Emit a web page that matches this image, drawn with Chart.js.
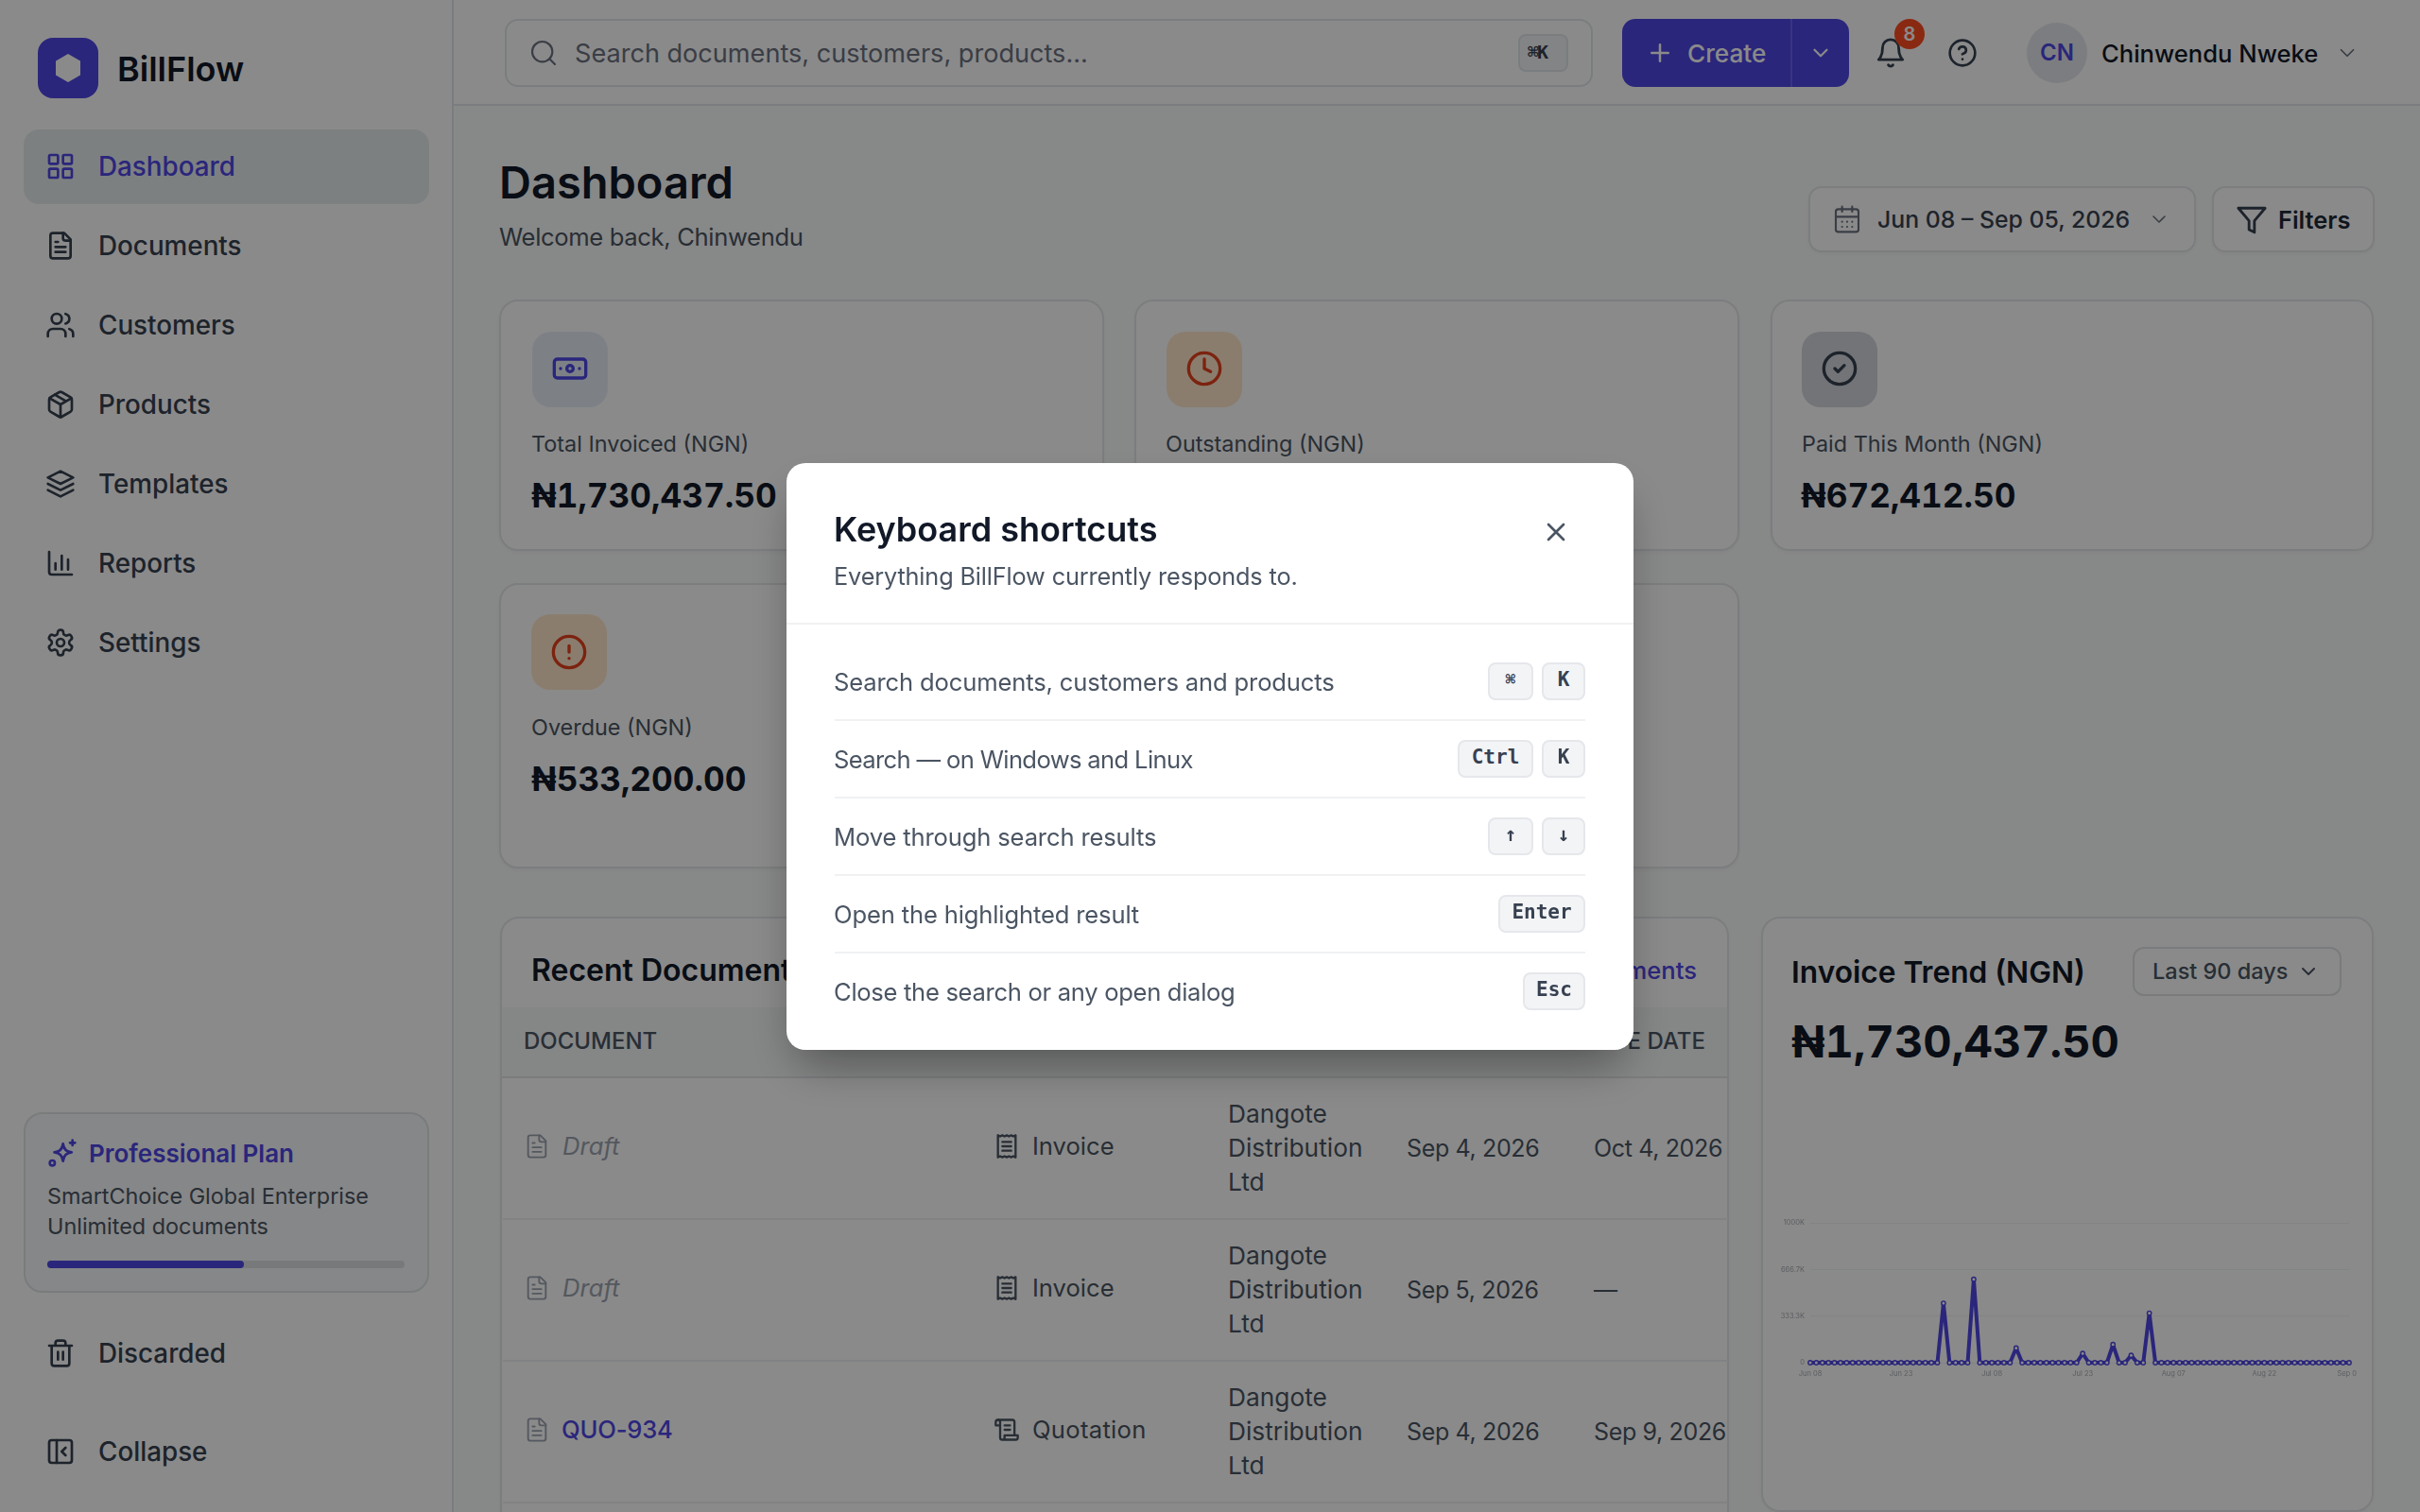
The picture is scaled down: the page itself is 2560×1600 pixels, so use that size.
<!DOCTYPE html>
<html><head><meta charset="utf-8"><title>BillFlow Dashboard</title>
<script src="https://cdn.jsdelivr.net/npm/chart.js@4"></script>
<style>
*{box-sizing:border-box}
html,body{margin:0;padding:0;width:2560px;height:1600px;overflow:hidden;background:#fafcfb;font-family:Inter,"Noto Sans",sans-serif;color:#111827}
.t{position:absolute;white-space:nowrap;transform:translateY(-50%);line-height:1.2}
.i{position:absolute;transform:translate(-50%,-50%);fill:none;stroke:currentColor;stroke-width:2;stroke-linecap:round;stroke-linejoin:round}
.b{position:absolute}
.card{position:absolute;background:#fff;border:2px solid #e4e8ea;border-radius:20px;box-shadow:0 2px 4px rgba(0,0,0,.04)}
.nav{font-size:27.8px;font-weight:500;color:#374151;left:104px;margin-top:1px}
.ni{color:#374151;left:64px;width:32px;height:32px}
.lab{font-size:23.4px;color:#4b5563;margin-top:1px}
.val{font-size:35.2px;font-weight:700;color:#111827;font-variant-numeric:tabular-nums;margin-top:1px}
.box{position:absolute;width:80px;height:80px;border-radius:20px}
.cell{font-size:25.6px;color:#4b5563}
.date{font-size:25px;color:#4b5563;letter-spacing:-.35px}
.cust{font-size:26.3px;color:#4b5563}
.rowline{position:absolute;left:532px;width:1296px;height:2px;background:#eef0f2}
.kbd{position:absolute;height:40px;background:#f3f4f6;border:2px solid #e5e7eb;border-radius:8px;font:700 21px/32px "DejaVu Sans Mono","Liberation Mono",monospace;color:#374151;text-align:center}
.mrow{font-size:25.6px;color:#4b5563;left:882px;letter-spacing:-.15px}
.mline{position:absolute;left:883px;width:794px;height:2px;background:#f0f1f3}
#overlay{position:absolute;left:0;top:0;width:2560px;height:1600px;background:rgba(0,0,0,.46)}
#modal{position:absolute;left:832px;top:490px;width:896px;height:621px;background:#fff;border-radius:20px;box-shadow:0 25px 50px -12px rgba(0,0,0,.4)}
#chartBox{position:absolute;left:1881px;top:1284px;width:612px;height:178px}
</style></head><body>
<svg width="0" height="0" style="position:absolute"><defs>
<symbol id="grid" viewBox="0 0 24 24"><rect x="3" y="3" width="7" height="7" rx="1"/><rect x="14" y="3" width="7" height="7" rx="1"/><rect x="14" y="14" width="7" height="7" rx="1"/><rect x="3" y="14" width="7" height="7" rx="1"/></symbol>
<symbol id="file" viewBox="0 0 24 24"><path d="M15 2H6a2 2 0 0 0-2 2v16a2 2 0 0 0 2 2h12a2 2 0 0 0 2-2V7z"/><path d="M14 2v4a2 2 0 0 0 2 2h4M16 13H8M16 17H8M10 9H8"/></symbol>
<symbol id="users" viewBox="0 0 24 24"><path d="M16 21v-2a4 4 0 0 0-4-4H6a4 4 0 0 0-4 4v2"/><circle cx="9" cy="7" r="4"/><path d="M22 21v-2a4 4 0 0 0-3-3.87M16 3.13a4 4 0 0 1 0 7.75"/></symbol>
<symbol id="pkg" viewBox="0 0 24 24"><path d="M11 21.73a2 2 0 0 0 2 0l7-4A2 2 0 0 0 21 16V8a2 2 0 0 0-1-1.73l-7-4a2 2 0 0 0-2 0l-7 4A2 2 0 0 0 3 8v8a2 2 0 0 0 1 1.73z"/><path d="M12 22V12M3.3 7l8.7 5 8.7-5M7.5 4.27l9 5.15"/></symbol>
<symbol id="layers" viewBox="0 0 24 24"><path d="M12 2 2 7l10 5 10-5-10-5z"/><path d="M2 17l10 5 10-5M2 12l10 5 10-5"/></symbol>
<symbol id="bars" viewBox="0 0 24 24"><path d="M3 3v16a2 2 0 0 0 2 2h16M8 17v-5M13 17V6M18 17v-8"/></symbol>
<symbol id="gear" viewBox="0 0 24 24"><path d="M12.22 2h-.44a2 2 0 0 0-2 2v.18a2 2 0 0 1-1 1.73l-.43.25a2 2 0 0 1-2 0l-.15-.08a2 2 0 0 0-2.73.73l-.22.38a2 2 0 0 0 .73 2.73l.15.1a2 2 0 0 1 1 1.72v.51a2 2 0 0 1-1 1.74l-.15.09a2 2 0 0 0-.73 2.73l.22.38a2 2 0 0 0 2.73.73l.15-.08a2 2 0 0 1 2 0l.43.25a2 2 0 0 1 1 1.73V20a2 2 0 0 0 2 2h.44a2 2 0 0 0 2-2v-.18a2 2 0 0 1 1-1.73l.43-.25a2 2 0 0 1 2 0l.15.08a2 2 0 0 0 2.73-.73l.22-.39a2 2 0 0 0-.73-2.73l-.15-.08a2 2 0 0 1-1-1.74v-.5a2 2 0 0 1 1-1.74l.15-.09a2 2 0 0 0 .73-2.73l-.22-.38a2 2 0 0 0-2.73-.73l-.15.08a2 2 0 0 1-2 0l-.43-.25a2 2 0 0 1-1-1.73V4a2 2 0 0 0-2-2z"/><circle cx="12" cy="12" r="3"/></symbol>
<symbol id="spark" viewBox="0 0 24 24"><path d="M10 4.5c.4 3.6 2.9 6.1 6.5 6.5-3.6.4-6.1 2.900-6.500 6.500C9.600 13.900 7.100 11.400 3.500 11c3.600-.4 6.100-2.900 6.500-6.500z" transform="translate(2 0) scale(1.05)"/><path d="M20 2v4M18 4h4"/><circle cx="4" cy="20" r="2"/></symbol>
<symbol id="trash" viewBox="0 0 24 24"><path d="M3 6h18M19 6v14a2 2 0 0 1-2 2H7a2 2 0 0 1-2-2V6M8 6V4a2 2 0 0 1 2-2h4a2 2 0 0 1 2 2v2M10 11v6M14 11v6"/></symbol>
<symbol id="panel" viewBox="0 0 24 24"><rect x="3" y="3" width="18" height="18" rx="2"/><path d="M9 3v18M16 15l-3-3 3-3"/></symbol>
<symbol id="search" viewBox="0 0 24 24"><circle cx="11" cy="11" r="8"/><path d="m21 21-4.300-4.300"/></symbol>
<symbol id="plus" viewBox="0 0 24 24"><path d="M5 12h14M12 5v14"/></symbol>
<symbol id="chev" viewBox="0 0 24 24"><path d="m6 9 6 6 6-6"/></symbol>
<symbol id="bell" viewBox="0 0 24 24"><path d="M6 8a6 6 0 0 1 12 0c0 7 3 9 3 9H3s3-2 3-9"/><path d="M10.300 21a1.940 1.940 0 0 0 3.400 0"/></symbol>
<symbol id="help" viewBox="0 0 24 24"><circle cx="12" cy="12" r="10"/><path d="M9.090 9a3 3 0 0 1 5.830 1c0 2-3 3-3 3M12 17h.01"/></symbol>
<symbol id="cal" viewBox="0 0 24 24"><rect x="3" y="4" width="18" height="18" rx="2"/><path d="M16 2v4M8 2v4M3 10h18M8 14h.01M12 14h.01M16 14h.01M8 18h.01M12 18h.01M16 18h.01"/></symbol>
<symbol id="filter" viewBox="0 0 24 24"><path d="M22 3H2l8 9.460V19l4 2v-8.540L22 3z"/></symbol>
<symbol id="x" viewBox="0 0 24 24"><path d="M18 6 6 18M6 6l12 12"/></symbol>
<symbol id="bank" viewBox="0 0 24 24"><rect x="2" y="6" width="20" height="12" rx="2"/><circle cx="12" cy="12" r="2"/><path d="M6 12h.01M18 12h.01"/></symbol>
<symbol id="clock" viewBox="0 0 24 24"><circle cx="12" cy="12" r="10"/><path d="M12 6v6l4 2"/></symbol>
<symbol id="alert" viewBox="0 0 24 24"><circle cx="12" cy="12" r="10"/><path d="M12 8v4M12 16h.01"/></symbol>
<symbol id="check" viewBox="0 0 24 24"><circle cx="12" cy="12" r="10"/><path d="m9 12 2 2 4-4"/></symbol>
<symbol id="receipt" viewBox="0 0 24 24"><path d="M4 2v20l2-1 2 1 2-1 2 1 2-1 2 1 2-1 2 1V2l-2 1-2-1-2 1-2-1-2 1-2-1-2 1z"/><path d="M16 8H8M16 12H8M16 16H8"/></symbol>
<symbol id="scroll" viewBox="0 0 24 24"><path d="M8 21h12a2 2 0 0 0 2-2v-2H10v2a2 2 0 1 1-4 0V5a2 2 0 1 0-4 0v3h4"/><path d="M19 17V5a2 2 0 0 0-2-2H4M15 8h-5M15 12h-5"/></symbol>
</defs></svg>

<!-- sidebar -->
<div class="b" style="left:0;top:0;width:480px;height:1600px;background:#fff;border-right:2px solid #e2e8eb"></div>
<div class="b" style="left:40px;top:40px;width:64px;height:64px;border-radius:16px;background:#4f46e5"></div>
<svg class="b" style="left:58px;top:57px;width:28px;height:30px" viewBox="0 0 28 30"><path d="M14 0 27 7.500V22.500L14 30 1 22.500V7.500Z" fill="#fff"/></svg>
<div class="t" style="left:124px;top:74px;font-size:36px;font-weight:600">BillFlow</div>
<div class="b" style="left:25px;top:137px;width:429px;height:79px;border-radius:16px;background:#e8edef"></div>
<svg class="i ni" style="top:176px;color:#4f46e5"><use href="#grid"/></svg><div class="t nav" style="top:176px;color:#4f46e5">Dashboard</div>
<svg class="i ni" style="top:260px"><use href="#file"/></svg><div class="t nav" style="top:260px">Documents</div>
<svg class="i ni" style="top:344px"><use href="#users"/></svg><div class="t nav" style="top:344px">Customers</div>
<svg class="i ni" style="top:428px"><use href="#pkg"/></svg><div class="t nav" style="top:428px">Products</div>
<svg class="i ni" style="top:512px"><use href="#layers"/></svg><div class="t nav" style="top:512px">Templates</div>
<svg class="i ni" style="top:596px"><use href="#bars"/></svg><div class="t nav" style="top:596px">Reports</div>
<svg class="i ni" style="top:680px"><use href="#gear"/></svg><div class="t nav" style="top:680px">Settings</div>
<div class="b" style="left:25px;top:1177px;width:429px;height:191px;border-radius:20px;border:2px solid #dfe5e6;background:#f8f9fb"></div>
<svg class="i" style="left:66px;top:1220px;width:32px;height:32px;color:#4f46e5"><use href="#spark"/></svg>
<div class="t" style="left:94px;top:1221px;font-size:26px;font-weight:600;color:#4f46e5">Professional Plan</div>
<div class="t" style="left:50px;top:1266px;font-size:23.4px;color:#4b5563">SmartChoice Global Enterprise</div>
<div class="t" style="left:50px;top:1298px;font-size:23.4px;color:#4b5563">Unlimited documents</div>
<div class="b" style="left:50px;top:1334px;width:378px;height:8px;border-radius:4px;background:#dde0e4"></div>
<div class="b" style="left:50px;top:1334px;width:208px;height:8px;border-radius:4px;background:#4f46e5"></div>
<svg class="i ni" style="top:1432px"><use href="#trash"/></svg><div class="t nav" style="top:1432px">Discarded</div>
<svg class="i ni" style="top:1536px"><use href="#panel"/></svg><div class="t nav" style="top:1536px">Collapse</div>

<!-- topbar -->
<div class="b" style="left:480px;top:0;width:2080px;height:112px;background:#fff;border-bottom:2px solid #e2e8eb"></div>
<div class="b" style="left:534px;top:20px;width:1151px;height:72px;border-radius:14px;border:2px solid #e2e8eb;background:#fff"></div>
<svg class="i" style="left:575px;top:56px;width:32px;height:32px;color:#6b7280;stroke-width:1.600"><use href="#search"/></svg>
<div class="t" style="left:608px;top:57px;font-size:27.100px;color:#6b7280">Search documents, customers, products...</div>
<div class="b" style="left:1606px;top:36px;width:53px;height:40px;border-radius:8px;border:2px solid #e2e8eb;background:#f3f4f6"></div>
<div class="t" style="left:1616px;top:55px;font:700 20px 'DejaVu Sans Mono',monospace;color:#374151;letter-spacing:-2px">⌘K</div>
<div class="b" style="left:1716px;top:20px;width:240px;height:72px;border-radius:14px;background:#4f46e5"></div>
<div class="b" style="left:1894px;top:20px;width:2px;height:72px;background:#6a62ea"></div>
<svg class="i" style="left:1756px;top:56px;width:30px;height:30px;color:#fff"><use href="#plus"/></svg>
<div class="t" style="left:1785px;top:57px;font-size:26.200px;font-weight:500;color:#fff">Create</div>
<svg class="i" style="left:1926px;top:56px;width:26px;height:26px;color:#fff"><use href="#chev"/></svg>
<svg class="i" style="left:2000px;top:56px;width:34px;height:34px;color:#374151"><use href="#bell"/></svg>
<div class="b" style="left:2004px;top:20px;width:32px;height:32px;border-radius:16px;background:#ff4d22"></div>
<div class="t" style="left:2004px;width:32px;text-align:center;top:36px;font-size:20px;font-weight:600;color:#fff">8</div>
<svg class="i" style="left:2076px;top:56px;width:32px;height:32px;color:#374151"><use href="#help"/></svg>
<div class="b" style="left:2144px;top:24px;width:64px;height:64px;border-radius:32px;background:#e5e8ec"></div>
<div class="t" style="left:2144px;width:64px;text-align:center;top:56px;font-size:24px;font-weight:600;color:#4f46e5">CN</div>
<div class="t" style="left:2223px;top:57px;font-size:25.6px;font-weight:500;color:#111827">Chinwendu Nweke</div>
<svg class="i" style="left:2483px;top:56px;width:26px;height:26px;color:#6b7280;stroke-width:1.600"><use href="#chev"/></svg>

<!-- page head -->
<div class="t" style="left:528px;top:193px;font-size:47px;font-weight:600">Dashboard</div>
<div class="t" style="left:528px;top:251px;font-size:25.600px;color:#4b5563;letter-spacing:-.35px">Welcome back, Chinwendu</div>
<div class="card" style="left:1913px;top:197px;width:410px;height:70px;border-radius:14px"></div>
<svg class="i" style="left:1954px;top:232px;width:32px;height:32px;color:#6b7280;stroke-width:1.600"><use href="#cal"/></svg>
<div class="t" style="left:1986px;top:233px;font-size:24.8px;font-weight:500;color:#374151">Jun 08 – Sep 05, 2026</div>
<svg class="i" style="left:2284px;top:232px;width:24px;height:24px;color:#6b7280;stroke-width:1.600"><use href="#chev"/></svg>
<div class="card" style="left:2340px;top:197px;width:172px;height:70px;border-radius:14px"></div>
<svg class="i" style="left:2382px;top:233px;width:34px;height:34px;color:#374151"><use href="#filter"/></svg>
<div class="t" style="left:2410px;top:233px;font-size:25.4px;font-weight:600;color:#1f2937">Filters</div>

<!-- metric cards -->
<div class="card" style="left:528px;top:317px;width:640px;height:266px"></div>
<div class="box" style="left:563px;top:351px;background:#e7eef8"></div>
<svg class="i" style="left:603px;top:390px;width:40px;height:40px;color:#4f46e5"><use href="#bank"/></svg>
<div class="t lab" style="left:562px;top:469px">Total Invoiced (NGN)</div>
<div class="t val" style="left:562px;top:523px">₦1,730,437.50</div>
<div class="card" style="left:1200px;top:317px;width:640px;height:266px"></div>
<div class="box" style="left:1234px;top:351px;background:#ffe7cb"></div>
<svg class="i" style="left:1274px;top:390px;width:40px;height:40px;color:#e5421c"><use href="#clock"/></svg>
<div class="t lab" style="left:1233px;top:469px">Outstanding (NGN)</div>
<div class="card" style="left:1873px;top:317px;width:638px;height:266px"></div>
<div class="box" style="left:1906px;top:351px;background:#d3d6dc"></div>
<svg class="i" style="left:1946px;top:390px;width:40px;height:40px;color:#374151"><use href="#check"/></svg>
<div class="t lab" style="left:1906px;top:469px">Paid This Month (NGN)</div>
<div class="t val" style="left:1905px;top:523px">₦672,412.50</div>
<div class="card" style="left:528px;top:617px;width:640px;height:302px"></div>
<div class="box" style="left:562px;top:650px;background:#ffe7cb"></div>
<svg class="i" style="left:602px;top:690px;width:40px;height:40px;color:#e5421c"><use href="#alert"/></svg>
<div class="t lab" style="left:562px;top:769px">Overdue (NGN)</div>
<div class="t val" style="left:562px;top:823px">₦533,200.00</div>
<div class="card" style="left:1200px;top:617px;width:640px;height:302px"></div>

<!-- recent documents -->
<div class="card" style="left:529px;top:970px;width:1300px;height:700px"></div>
<div class="t" style="left:562px;top:1027px;font-size:32px;font-weight:600">Recent Documents</div>
<div class="t" style="right:765px;top:1027px;font-size:25.600px;font-weight:500;color:#4f46e5">ments</div>
<div class="b" style="left:531px;top:1066px;width:1296px;height:75px;background:#f5f7f7;border-bottom:2px solid #e2e6e9"></div>
<div class="t" style="left:554px;top:1102px;font-size:24px;font-weight:500;color:#4b5563">DOCUMENT</div>
<div class="t" style="right:756px;top:1102px;font-size:24px;font-weight:500;color:#4b5563">DUE DATE</div>
<div class="rowline" style="top:1289px"></div><div class="rowline" style="top:1439px"></div><div class="rowline" style="top:1589px"></div>
<svg class="i" style="left:568px;top:1213px;width:28px;height:28px;color:#9ca3af;stroke-width:1.600"><use href="#file"/></svg>
<div class="t cell" style="left:595px;top:1213px;font-style:italic;color:#9ca3af">Draft</div>
<svg class="i" style="left:1065px;top:1213px;width:28px;height:28px;color:#4b5563"><use href="#receipt"/></svg>
<div class="t cell" style="left:1092px;top:1213px">Invoice</div>
<div class="t cust" style="left:1299px;top:1179px">Dangote</div><div class="t cust" style="left:1299px;top:1215px">Distribution</div><div class="t cust" style="left:1299px;top:1251px">Ltd</div>
<div class="t date" style="left:1488px;top:1215px">Sep 4, 2026</div>
<div class="t date" style="left:1686px;top:1215px">Oct 4, 2026</div>
<svg class="i" style="left:568px;top:1363px;width:28px;height:28px;color:#9ca3af;stroke-width:1.600"><use href="#file"/></svg>
<div class="t cell" style="left:595px;top:1363px;font-style:italic;color:#9ca3af">Draft</div>
<svg class="i" style="left:1065px;top:1363px;width:28px;height:28px;color:#4b5563"><use href="#receipt"/></svg>
<div class="t cell" style="left:1092px;top:1363px">Invoice</div>
<div class="t cust" style="left:1299px;top:1329px">Dangote</div><div class="t cust" style="left:1299px;top:1365px">Distribution</div><div class="t cust" style="left:1299px;top:1401px">Ltd</div>
<div class="t date" style="left:1488px;top:1365px">Sep 5, 2026</div>
<div class="t date" style="left:1686px;top:1365px">—</div>
<svg class="i" style="left:568px;top:1513px;width:28px;height:28px;color:#9ca3af;stroke-width:1.600"><use href="#file"/></svg>
<div class="t cell" style="left:594px;top:1513px;color:#4f46e5;font-weight:500;letter-spacing:-.2px">QUO-934</div>
<svg class="i" style="left:1065px;top:1513px;width:28px;height:28px;color:#4b5563"><use href="#scroll"/></svg>
<div class="t cell" style="left:1092px;top:1513px;letter-spacing:.3px">Quotation</div>
<div class="t cust" style="left:1299px;top:1479px">Dangote</div><div class="t cust" style="left:1299px;top:1515px">Distribution</div><div class="t cust" style="left:1299px;top:1551px">Ltd</div>
<div class="t date" style="left:1488px;top:1515px">Sep 4, 2026</div>
<div class="t date" style="left:1686px;top:1515px">Sep 9, 2026</div>

<!-- invoice trend -->
<div class="card" style="left:1863px;top:970px;width:648px;height:630px"></div>
<div class="t" style="left:1895px;top:1029px;font-size:31.7px;font-weight:600">Invoice Trend (NGN)</div>
<div class="b" style="left:2256px;top:1002px;width:221px;height:52px;border:2px solid #dfe3e6;border-radius:12px"></div>
<div class="t" style="left:2277px;top:1028px;font-size:23.5px;font-weight:500;color:#4b5563">Last 90 days</div>
<svg class="i" style="left:2442px;top:1028px;width:24px;height:24px;color:#4b5563"><use href="#chev"/></svg>
<div class="t" style="left:1895px;top:1102px;font-size:47px;font-weight:700;font-variant-numeric:tabular-nums">₦1,730,437.50</div>
<div id="chartBox"><canvas id="trend"></canvas></div>

<div id="overlay"></div>

<!-- modal -->
<div id="modal"></div>
<div class="t" style="left:882px;top:561px;font-size:36px;font-weight:600">Keyboard shortcuts</div>
<div class="t" style="left:882px;top:610px;font-size:25.3px;color:#4b5563;letter-spacing:-.15px">Everything BillFlow currently responds to.</div>
<div class="b" style="left:832px;top:659px;width:896px;height:2px;background:#f0f1f3"></div>
<svg class="i" style="left:1646px;top:563px;width:32px;height:32px;color:#4b5563"><use href="#x"/></svg>
<div class="t mrow" style="top:722px">Search documents, customers and products</div>
<div class="mline" style="top:761px"></div>
<div class="t mrow" style="top:804px;letter-spacing:-.65px">Search — on Windows and Linux</div>
<div class="mline" style="top:843px"></div>
<div class="t mrow" style="top:886px">Move through search results</div>
<div class="mline" style="top:925px"></div>
<div class="t mrow" style="top:968px">Open the highlighted result</div>
<div class="mline" style="top:1007px"></div>
<div class="t mrow" style="top:1050px;letter-spacing:-.31px">Close the search or any open dialog</div>
<div class="kbd" style="left:1574px;top:701px;width:48px;font-size:18px">⌘</div><div class="kbd" style="left:1631px;top:701px;width:46px">K</div>
<div class="kbd" style="left:1542px;top:783px;width:80px">Ctrl</div><div class="kbd" style="left:1631px;top:783px;width:46px">K</div>
<div class="kbd" style="left:1574px;top:865px;width:48px">↑</div><div class="kbd" style="left:1631px;top:865px;width:46px">↓</div>
<div class="kbd" style="left:1585px;top:947px;width:92px">Enter</div>
<div class="kbd" style="left:1611px;top:1029px;width:66px">Esc</div>

<script>
const dates = [
"Jun 08","Jun 09","Jun 10","Jun 11","Jun 12","Jun 13","Jun 14","Jun 15","Jun 16","Jun 17","Jun 18","Jun 19","Jun 20","Jun 21","Jun 22",
"Jun 23","Jun 24","Jun 25","Jun 26","Jun 27","Jun 28","Jun 29","Jun 30","Jul 01","Jul 02","Jul 03","Jul 04","Jul 05","Jul 06","Jul 07",
"Jul 08","Jul 09","Jul 10","Jul 11","Jul 12","Jul 13","Jul 14","Jul 15","Jul 16","Jul 17","Jul 18","Jul 19","Jul 20","Jul 21","Jul 22",
"Jul 23","Jul 24","Jul 25","Jul 26","Jul 27","Jul 28","Jul 29","Jul 30","Jul 31","Aug 01","Aug 02","Aug 03","Aug 04","Aug 05","Aug 06",
"Aug 07","Aug 08","Aug 09","Aug 10","Aug 11","Aug 12","Aug 13","Aug 14","Aug 15","Aug 16","Aug 17","Aug 18","Aug 19","Aug 20","Aug 21",
"Aug 22","Aug 23","Aug 24","Aug 25","Aug 26","Aug 27","Aug 28","Aug 29","Aug 30","Aug 31","Sep 01","Sep 02","Sep 03","Sep 04","Sep 05"];
const invoiced = [
0,0,0,0,0,0,0,0,0,0,0,0,0,0,0,
0,0,0,0,0,0,0,425000,0,0,0,0,597000,0,0,
0,0,0,0,105000,0,0,0,0,0,0,0,0,0,0,
66000,0,0,0,0,130000,0,0,53000,0,0,354437.5,0,0,0,
0,0,0,0,0,0,0,0,0,0,0,0,0,0,0,
0,0,0,0,0,0,0,0,0,0,0,0,0,0,0];
const xTickLabels = ["Jun 08","Jun 23","Jul 08","Jul 23","Aug 07","Aug 22","Sep 05"];
const yTickLabels = ["0","333.3K","666.7K","1000K"];

new Chart(document.getElementById("trend"), {
  type: "line",
  data: { labels: dates, datasets: [{
    label: "Invoiced", data: invoiced, borderColor: "#4f46e5", borderWidth: 4, borderJoinStyle: "round",
    tension: 0, clip: false, pointRadius: 2.2, pointBorderWidth: 1.4,
    pointBackgroundColor: "#fff", pointBorderColor: "#4f46e5", fill: false
  }]},
  options: {
    responsive: true, maintainAspectRatio: false, animation: false, devicePixelRatio: 1,
    layout: { padding: { top: 10, right: 8, bottom: 0, left: 0 } },
    plugins: { legend: { display: false }, tooltip: { enabled: false } },
    scales: {
      x: {
        offset: false,
        grid: { display: false, drawTicks: false }, border: { display: false },
        ticks: { autoSkip: false, maxRotation: 0, padding: 7, color: "#a8adb5", font: { family: "Inter", size: 7.5 },
          callback(v) { const s = dates[v]; return xTickLabels.includes(s) ? s : ""; } },
        afterFit(s) { s.height = 20; s.paddingLeft = 0; s.paddingRight = 0; }
      },
      y: {
        min: 0, max: 1000000,
        grid: { color: "#f1f2f4", lineWidth: 1, drawTicks: false }, border: { display: false },
        ticks: { stepSize: 1000000 / 3, padding: 6, color: "#a8adb5", font: { family: "Inter", size: 7.5 },
          callback(v, i) { return yTickLabels[i]; } },
        afterFit(s) { s.width = 34; s.paddingTop = 0; s.paddingBottom = 0; }
      }
    }
  }
});
</script>
</body></html>
